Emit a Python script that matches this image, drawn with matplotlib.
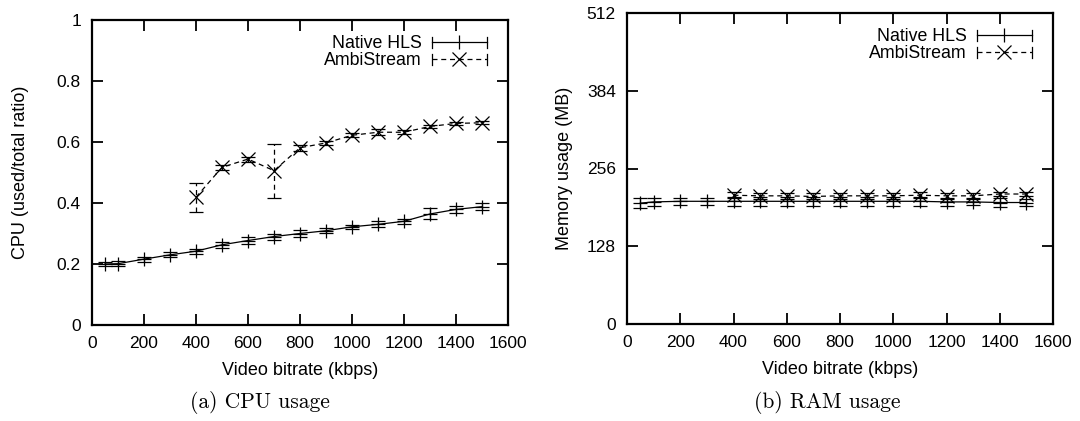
import matplotlib
matplotlib.use("Agg")
import matplotlib.pyplot as plt
from matplotlib.lines import Line2D
from matplotlib.legend_handler import HandlerBase

# ===== Data =====
bitrate = [50, 100, 200, 300, 400, 500, 600, 700, 800, 900, 1000, 1100, 1200, 1300, 1400, 1500]
bitrate_ambi = [400, 500, 600, 700, 800, 900, 1000, 1100, 1200, 1300, 1400, 1500]

cpu_hls = [0.200, 0.201, 0.216, 0.230, 0.242, 0.263, 0.277, 0.290, 0.300, 0.309,
           0.322, 0.330, 0.340, 0.364, 0.379, 0.388]
cpu_hls_err = [0.008, 0.008, 0.008, 0.008, 0.008, 0.010, 0.012, 0.010, 0.010, 0.008,
               0.006, 0.010, 0.008, 0.018, 0.012, 0.012]
cpu_ambi = [0.419, 0.517, 0.544, 0.506, 0.581, 0.597, 0.622, 0.632, 0.632, 0.651, 0.661, 0.663]
cpu_ambi_err = [0.047, 0.008, 0.008, 0.089, 0.010, 0.006, 0.006, 0.010, 0.006, 0.006, 0.006, 0.005]

ram_hls = [199, 201, 202, 202, 202, 202, 202, 202, 202, 202, 202, 202, 201, 201, 200, 200]
ram_hls_err = [8, 6, 6, 6, 7, 7, 7, 7, 7, 7, 7, 7, 7, 5, 7, 6]
ram_ambi = [212, 211, 211, 210, 211, 211, 211, 212, 211, 211, 214, 214]
ram_ambi_err = [5, 5, 5, 5, 5, 5, 5, 5, 5, 4, 4, 4]

# ===== Styling =====
font_name = "Liberation Sans"
tick_size = 12.5
label_size = 13
legend_size = 12.8
lw = 0.9
dash = (0, (4, 3))
plt.rcParams["font.family"] = font_name


class GnuplotKey(HandlerBase):
    # key sample like gnuplot: |---marker---|
    def create_artists(self, legend, orig_handle, xdescent, ydescent,
                       width, height, fontsize, trans):
        ls, mk = orig_handle
        y = height / 2 - ydescent
        x0, x1 = -xdescent, width - xdescent
        xm = (x0 + x1) / 2
        arts = [Line2D([x0, x1], [y, y], color="black", linestyle=ls, linewidth=lw),
                Line2D([x0, x0], [y - 4, y + 4], color="black", linewidth=lw),
                Line2D([x1, x1], [y - 4, y + 4], color="black", linewidth=lw),
                Line2D([xm], [y], color="black", marker=mk, markersize=10,
                       markeredgewidth=lw, linestyle="none")]
        for a in arts:
            a.set_transform(trans)
        return arts


fig = plt.figure(figsize=(10.8, 4.21), dpi=100)
ax1 = fig.add_axes([92 / 1080, 1 - 325 / 421, 416 / 1080, 305 / 421])
ax2 = fig.add_axes([627 / 1080, 1 - 324 / 421, 426 / 1080, 311 / 421])


def draw(ax, yh, eh, ya, ea, ax_h):
    ax.errorbar(bitrate, yh, yerr=eh, color="black", linestyle="-", marker="+",
                markersize=10, linewidth=lw, elinewidth=lw, capsize=5, capthick=lw,
                markeredgewidth=lw)
    eb = ax.errorbar(bitrate_ambi, ya, yerr=ea, color="black", linestyle=dash,
                     marker="x", markersize=10, linewidth=lw, elinewidth=lw, capsize=5,
                     capthick=lw, markeredgewidth=lw)
    eb[2][0].set_linestyle(dash)

    ax.legend([("-", "|"), (dash, "x")], ["Native HLS", "AmbiStream"], loc="upper right",
              bbox_to_anchor=(1, 1 + 6 / ax_h),
              frameon=False, markerfirst=False, handlelength=3.1,
              handletextpad=0.55, labelspacing=0.0, fontsize=legend_size,
              borderaxespad=0.9, borderpad=0.3,
              handler_map={tuple: GnuplotKey()})

    ax.set_xlim(0, 1600)
    ax.set_xticks(range(0, 1601, 200))
    ax.set_xlabel("Video bitrate (kbps)", fontsize=label_size, labelpad=8)
    ax.tick_params(direction="in", length=8, width=1.3, top=True, right=True,
                   labelsize=tick_size, pad=8)
    for spine in ax.spines.values():
        spine.set_linewidth(1.6)


draw(ax1, cpu_hls, cpu_hls_err, cpu_ambi, cpu_ambi_err, 305)
ax1.set_ylim(0, 1)
ax1.set_yticks([0, 0.2, 0.4, 0.6, 0.8, 1])
ax1.set_yticklabels(["0", "0.2", "0.4", "0.6", "0.8", "1"])
ax1.set_ylabel("CPU (used/total ratio)", fontsize=label_size, labelpad=20)

draw(ax2, ram_hls, ram_hls_err, ram_ambi, ram_ambi_err, 311)
ax2.set_ylim(0, 512)
ax2.set_yticks([0, 128, 256, 384, 512])
ax2.set_ylabel("Memory usage (MB)", fontsize=label_size, labelpad=10)

# ===== Captions =====
fig.text(260 / 1080, 1 - 403 / 421, "(a) CPU usage", family="cmr10", fontsize=15.5,
         ha="center", va="center")
fig.text(827 / 1080, 1 - 403 / 421, "(b) RAM usage", family="cmr10", fontsize=15.5,
         ha="center", va="center")

plt.savefig("out.png", dpi=100)
